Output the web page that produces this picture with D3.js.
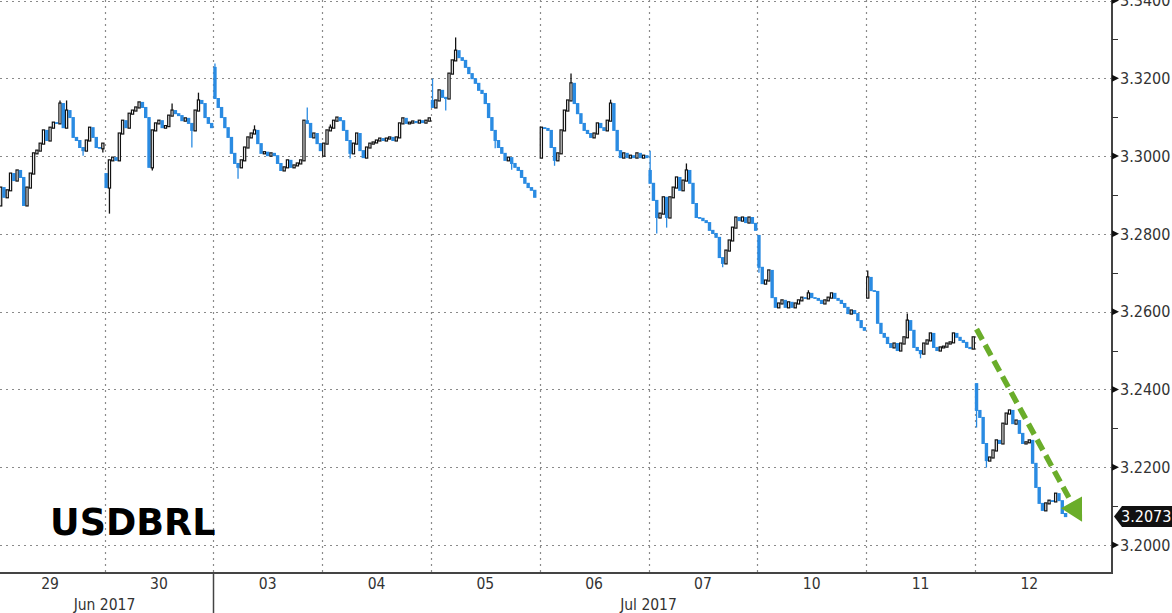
<!DOCTYPE html>
<html>
<head>
<meta charset="utf-8">
<script src="https://cdn.jsdelivr.net/npm/d3@7"></script>
<style>
  html, body { margin: 0; padding: 0; background: #fff; }
  svg { display: block; }
</style>
</head>
<body>
<svg id="chart" width="1172" height="613"></svg>
<script>
// ---------------- DATA ----------------
const days = ["29", "30", "03", "04", "05", "06", "07", "10", "11", "12"];
const monthLabels = ["Jun 2017", "Jul 2017"];
const monthFirstDay = [0, 2];           // index into days where each month starts
const yTicks = [3.20, 3.22, 3.24, 3.26, 3.28, 3.30, 3.32, 3.34];
const lastPrice = 3.2073;

// open of the first bar of each session
const dayOpens = [3.2834, 3.2955, 3.3228, 3.3001, 3.3143, 3.2996, 3.2963, 3.2796, 3.2636, 3.2415];

// bar closes per session (intraday bars)
const close29 = [3.2873, 3.2919, 3.2894, 3.2912, 3.2955, 3.2937, 3.2963, 3.2945, 3.2873, 3.2919, 3.2955,
  3.3007, 3.3014, 3.3032, 3.3066, 3.3040, 3.3073, 3.3086, 3.3084, 3.3135, 3.3073, 3.3117, 3.3099,
  3.3048, 3.3040, 3.3022, 3.3014, 3.3040, 3.3073, 3.3048, 3.3022, 3.3020, 3.3032];
const close30 = [3.2919, 3.2989, 3.2996, 3.2989, 3.3058, 3.3091, 3.3073, 3.3109, 3.3117, 3.3125, 3.3138,
  3.3125, 3.3099, 3.2971, 3.3066, 3.3084, 3.3091, 3.3073, 3.3077, 3.3104, 3.3117, 3.3109, 3.3104,
  3.3091, 3.3097, 3.3084, 3.3066, 3.3117, 3.3143, 3.3135, 3.3099, 3.3084, 3.3073];
const close03 = [3.3148, 3.3125, 3.3099, 3.3073, 3.3048, 3.3007, 3.2981, 3.2971, 3.2989, 3.3022, 3.3048,
  3.3058, 3.3066, 3.3032, 3.3007, 3.3010, 3.3001, 3.3007, 3.3001, 3.2981, 3.2963, 3.2971, 3.2989,
  3.2971, 3.2976, 3.2981, 3.2989, 3.3091, 3.3084, 3.3048, 3.3058, 3.3032, 3.3014];
const close04 = [3.3032, 3.3066, 3.3073, 3.3091, 3.3099, 3.3091, 3.3066, 3.3040, 3.3007, 3.3032, 3.3058,
  3.3014, 3.2996, 3.3022, 3.3032, 3.3035, 3.3040, 3.3045, 3.3040, 3.3045, 3.3048, 3.3040, 3.3048,
  3.3084, 3.3097, 3.3084, 3.3086, 3.3089, 3.3086, 3.3091, 3.3086, 3.3091, 3.3097];
const close05 = [3.3125, 3.3143, 3.3169, 3.3151, 3.3148, 3.3212, 3.3246, 3.3271, 3.3253, 3.3246, 3.3228,
  3.3212, 3.3199, 3.3187, 3.3169, 3.3161, 3.3135, 3.3099, 3.3066, 3.3040, 3.3022, 3.3007, 3.2989,
  3.2996, 3.2981, 3.2971, 3.2963, 3.2945, 3.2930, 3.2919, 3.2912, 3.2894];
const close06 = [3.3073, 3.3071, 3.3066, 3.3022, 3.2989, 3.3007, 3.3066, 3.3117, 3.3143, 3.3187, 3.3135,
  3.3109, 3.3084, 3.3066, 3.3058, 3.3048, 3.3058, 3.3084, 3.3073, 3.3066, 3.3091, 3.3135, 3.3066,
  3.3014, 3.2996, 3.3007, 3.2996, 3.3001, 3.2996, 3.3007, 3.2996, 3.3001, 3.2996];
const close07 = [3.2930, 3.2886, 3.2842, 3.2852, 3.2894, 3.2842, 3.2894, 3.2919, 3.2945, 3.2912, 3.2937,
  3.2963, 3.2930, 3.2878, 3.2842, 3.2840, 3.2834, 3.2829, 3.2809, 3.2801, 3.2791, 3.2739, 3.2724,
  3.2757, 3.2783, 3.2816, 3.2842, 3.2834, 3.2842, 3.2829, 3.2842, 3.2827, 3.2809];
const close10 = [3.2714, 3.2672, 3.2680, 3.2706, 3.2636, 3.2611, 3.2621, 3.2629, 3.2611, 3.2624, 3.2611,
  3.2621, 3.2629, 3.2636, 3.2634, 3.2647, 3.2636, 3.2634, 3.2629, 3.2621, 3.2629, 3.2636, 3.2647,
  3.2634, 3.2629, 3.2621, 3.2611, 3.2595, 3.2603, 3.2595, 3.2577, 3.2559, 3.2552];
const close11 = [3.2688, 3.2654, 3.2652, 3.2570, 3.2544, 3.2534, 3.2518, 3.2508, 3.2518, 3.2500, 3.2518,
  3.2534, 3.2577, 3.2552, 3.2508, 3.2500, 3.2492, 3.2518, 3.2526, 3.2544, 3.2508, 3.2500, 3.2508,
  3.2510, 3.2518, 3.2521, 3.2544, 3.2534, 3.2526, 3.2521, 3.2508, 3.2505, 3.2534];
const close12 = [3.2346, 3.2328, 3.2261, 3.2217, 3.2225, 3.2243, 3.2269, 3.2261, 3.2312, 3.2338, 3.2346,
  3.2312, 3.2320, 3.2287, 3.2261, 3.2264, 3.2269, 3.2210, 3.2148, 3.2107, 3.2089, 3.2107, 3.2114,
  3.2112, 3.2132, 3.2114, 3.2081, 3.2073];
const sessionCloses = [close29, close30, close03, close04, close05, close06, close07, close10, close11, close12];

// notable wicks: [session, bar, high, low]  (null = body end)
const wicks = [
  [0, 19, 3.3143, null], [0, 21, 3.3143, null], [0, 26, null, 3.3001], [0, 32, null, 3.3009],
  [1, 1, null, 3.2852], [1, 14, null, 3.2963], [1, 20, 3.3135, null], [1, 26, null, 3.3022], [1, 28, 3.3163, null],
  [2, 0, 3.3238, null], [2, 7, null, 3.2942], [2, 28, 3.3125, null], [2, 12, 3.3079, null],
  [3, 8, null, 3.2994], [3, 2, 3.3081, null],
  [4, 0, 3.3199, null], [4, 4, null, 3.3117], [4, 7, 3.3305, null], [4, 19, null, 3.3020], [4, 24, null, 3.2965],
  [5, 9, 3.3212, null], [5, 4, null, 3.2975], [5, 21, 3.3145, null],
  [6, 0, 3.3014, null], [6, 2, null, 3.2801], [6, 5, null, 3.2816], [6, 11, 3.2981, null], [6, 22, null, 3.2714],
  [7, 0, null, 3.2700], [7, 15, 3.2655, null],
  [8, 0, 3.2706, null], [8, 12, 3.2595, null], [8, 16, null, 3.2480],
  [9, 0, null, 3.2302], [9, 3, null, 3.2199], [9, 18, 3.2170, null]
];

// trend annotation (green arrow): from / to, in (session, bar, price)
const arrowFrom = [9, 0, 3.2555];
const arrowTo = [9, 32, 3.2060];

// ---------------- CHART ----------------
const W = 1172, H = 613;
const SLOTS = 33;
const axisRight = 1112, axisBottom = 573;

const svg = d3.select("#chart");
svg.append("rect").attr("width", W).attr("height", H).attr("fill", "#fff");

const xDay = d3.scaleBand().domain(d3.range(days.length)).range([-4.3, 1083.7]).paddingInner(0).paddingOuter(0);
const bw = xDay.bandwidth();
const xBar = (s, i) => xDay(s) + (i + 0.5) * bw / SLOTS;
const y = d3.scaleLinear().domain([3.20, 3.34]).range([545, 0.5]);

// build bars
const bars = [];
sessionCloses.forEach((arr, s) => {
  let prev = dayOpens[s];
  arr.forEach((c, i) => {
    const o = prev;
    bars.push({ s, i, o, c, h: Math.max(o, c), l: Math.min(o, c) });
    prev = c;
  });
});
wicks.forEach(([s, i, hi, lo]) => {
  const b = bars.find(d => d.s === s && d.i === i);
  if (!b) return;
  if (hi != null) b.h = Math.max(b.h, hi);
  if (lo != null) b.l = Math.min(b.l, lo);
});

// grid
const grid = svg.append("g");
grid.selectAll("line.h").data(yTicks).join("line")
  .attr("x1", 0).attr("x2", axisRight)
  .attr("y1", d => Math.round(y(d)) + 0.5).attr("y2", d => Math.round(y(d)) + 0.5)
  .attr("stroke", "#8a8a8a").attr("stroke-width", 1.2).attr("stroke-dasharray", "2,4");
grid.selectAll("line.v").data(d3.range(1, days.length)).join("line")
  .attr("x1", d => Math.round(xDay(d)) + 0.5).attr("x2", d => Math.round(xDay(d)) + 0.5)
  .attr("y1", 0).attr("y2", axisBottom)
  .attr("stroke", "#8a8a8a").attr("stroke-width", 1.2).attr("stroke-dasharray", "2,4");

// candles
const defs = svg.append("defs");
defs.append("clipPath").attr("id", "plotclip").append("rect")
  .attr("x", 0).attr("y", 0).attr("width", axisRight).attr("height", axisBottom);
const cg = svg.append("g").attr("clip-path", "url(#plotclip)");
const UP = "#111", DOWN = "#2a8be2";
const g = cg.selectAll("g.bar").data(bars).join("g");
g.append("line")
  .attr("x1", d => xBar(d.s, d.i)).attr("x2", d => xBar(d.s, d.i))
  .attr("y1", d => y(d.h)).attr("y2", d => y(d.l))
  .attr("stroke", d => d.c >= d.o ? UP : DOWN).attr("stroke-width", 1.3);
g.append("rect")
  .attr("x", d => xBar(d.s, d.i) - (d.c >= d.o ? 1.1 : 1.7))
  .attr("width", d => d.c >= d.o ? 2.2 : 3.4)
  .attr("y", d => y(Math.max(d.o, d.c)) - 0.5)
  .attr("height", d => Math.max(1.5, Math.abs(y(d.o) - y(d.c)) + 1))
  .attr("fill", d => d.c >= d.o ? "#fff" : DOWN)
  .attr("stroke", d => d.c >= d.o ? UP : "none")
  .attr("stroke-width", 1.2);

// axes lines
svg.append("line").attr("x1", 0).attr("x2", axisRight + 1).attr("y1", axisBottom).attr("y2", axisBottom)
  .attr("stroke", "#444").attr("stroke-width", 2);
svg.append("line").attr("x1", axisRight).attr("x2", axisRight).attr("y1", 0).attr("y2", axisBottom)
  .attr("stroke", "#444").attr("stroke-width", 2);

// y axis (right) – major ticks as triangles, minor ticks as short lines
const minor = d3.range(3.21, 3.34, 0.02);
svg.selectAll("line.minor").data(minor).join("line")
  .attr("x1", axisRight).attr("x2", axisRight + 6)
  .attr("y1", d => Math.round(y(d)) + 0.5).attr("y2", d => Math.round(y(d)) + 0.5)
  .attr("stroke", "#333").attr("stroke-width", 1);
svg.selectAll("path.tri").data(yTicks).join("path")
  .attr("d", d => { const yy = y(d); return `M${axisRight},${yy - 3.5}L${axisRight + 7},${yy}L${axisRight},${yy + 3.5}Z`; })
  .attr("fill", "#111");
svg.selectAll("text.ytick").data(yTicks).join("text")
  .attr("x", axisRight + 8).attr("y", d => y(d)).attr("dy", "0.36em")
  .attr("font-family", "'DejaVu Sans Condensed', 'DejaVu Sans', sans-serif").attr("font-size", 16)
  .attr("fill", "#333").text(d => d.toFixed(4));

// x axis labels
svg.selectAll("text.day").data(days).join("text")
  .attr("x", (d, i) => xDay(i) + bw / 2).attr("y", 589)
  .attr("text-anchor", "middle")
  .attr("font-family", "'DejaVu Sans Condensed', 'DejaVu Sans', sans-serif").attr("font-size", 15.5)
  .attr("fill", "#333").text(d => d);
monthLabels.forEach((m, k) => {
  const a = monthFirstDay[k];
  const b = k + 1 < monthFirstDay.length ? monthFirstDay[k + 1] : days.length;
  const cx = (xDay(a) + xDay(b - 1) + bw) / 2;
  svg.append("text").attr("x", cx).attr("y", 610).attr("text-anchor", "middle")
    .attr("font-family", "'DejaVu Sans Condensed', 'DejaVu Sans', sans-serif").attr("font-size", 15.5)
    .attr("fill", "#333").text(m);
  if (k > 0) {
    svg.append("line").attr("x1", Math.round(xDay(a)) + 0.5).attr("x2", Math.round(xDay(a)) + 0.5)
      .attr("y1", axisBottom).attr("y2", H).attr("stroke", "#444").attr("stroke-width", 1.5);
  }
});

// last price tag
const ly = y(lastPrice);
svg.append("path")
  .attr("d", `M${axisRight + 2},${ly}L${axisRight + 10},${ly - 10.5}L${W},${ly - 10.5}L${W},${ly + 10.5}L${axisRight + 10},${ly + 10.5}Z`)
  .attr("fill", "#111");
svg.append("text").attr("x", axisRight + 9).attr("y", ly).attr("dy", "0.36em")
  .attr("font-family", "'DejaVu Sans Condensed', 'DejaVu Sans', sans-serif").attr("font-size", 16)
  .attr("fill", "#fff").text(lastPrice.toFixed(4));

// green trend arrow
const ax1 = xBar(arrowFrom[0], arrowFrom[1]), ay1 = y(arrowFrom[2]);
const ax2 = xBar(arrowTo[0], arrowTo[1]), ay2 = y(arrowTo[2]);
const ang = Math.atan2(ay2 - ay1, ax2 - ax1);
const headLen = 22, headW = 12;
const bx = ax2 - headLen * Math.cos(ang), by = ay2 - headLen * Math.sin(ang);
svg.append("line").attr("x1", ax1).attr("y1", ay1).attr("x2", bx + 2 * Math.cos(ang)).attr("y2", by + 2 * Math.sin(ang))
  .attr("stroke", "#6aad2a").attr("stroke-width", 5.5).attr("stroke-dasharray", "12,6");
svg.append("path")
  .attr("d", `M${ax2},${ay2}L${bx + headW * Math.sin(ang)},${by - headW * Math.cos(ang)}L${bx - headW * Math.sin(ang)},${by + headW * Math.cos(ang)}Z`)
  .attr("fill", "#6aad2a");

// title
svg.append("text").attr("x", 50).attr("y", 535)
  .attr("font-family", "'DejaVu Sans', Verdana, sans-serif").attr("font-weight", "bold").attr("font-size", 36.5)
  .attr("fill", "#000").text("USDBRL");
</script>
</body>
</html>
